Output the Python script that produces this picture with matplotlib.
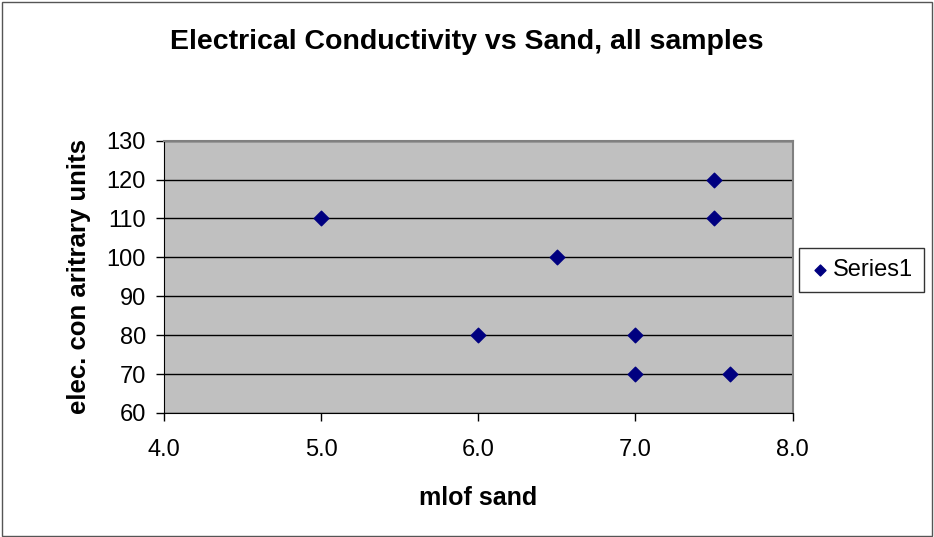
import matplotlib
matplotlib.use("Agg")
import matplotlib.pyplot as plt
from matplotlib.patches import Rectangle

# data
sand_ml = [5.0, 6.0, 6.5, 7.0, 7.0, 7.5, 7.5, 7.6]
conductivity = [110, 80, 100, 80, 70, 120, 110, 70]
x_ticks = [4.0, 5.0, 6.0, 7.0, 8.0]
y_ticks = [60, 70, 80, 90, 100, 110, 120, 130]

plt.rcParams['font.family'] = ['Liberation Sans', 'DejaVu Sans']

fig = plt.figure(figsize=(9.34, 5.37), dpi=100)
ax = fig.add_axes([0.1756, 0.231, 0.673, 0.507])

ax.set_facecolor('#C0C0C0')
ax.scatter(sand_ml, conductivity, marker='D', s=55, color='#000080',
           zorder=3, label='Series1')

ax.set_xlim(4.0, 8.0)
ax.set_ylim(60, 130)
ax.set_xticks(x_ticks)
ax.set_xticklabels([f"{v:.1f}" for v in x_ticks])
ax.set_yticks(y_ticks)
ax.tick_params(axis='both', labelsize=17, length=6, width=1, color='black',
               direction='out')
ax.tick_params(axis='x', pad=13)
ax.tick_params(axis='y', pad=7)
ax.grid(axis='y', color='black', linewidth=1, zorder=1)

for s in ['left', 'bottom']:
    ax.spines[s].set_color('black')
for s in ['top', 'right']:
    ax.spines[s].set_color('#808080')
    ax.spines[s].set_linewidth(1.5)

ax.set_xlabel('mlof sand', fontsize=18, fontweight='bold', labelpad=18)
ax.set_ylabel('elec. con aritrary units', fontsize=18.5, fontweight='bold',
              labelpad=11)
fig.text(0.5, 0.922, 'Electrical Conductivity vs Sand, all samples',
         ha='center', va='center', fontsize=20.5, fontweight='bold')

leg = fig.legend(loc='center left', bbox_to_anchor=(0.855, 0.497),
                 fontsize=17, frameon=True, fancybox=False,
                 handletextpad=0.1, borderpad=0.45, markerscale=0.75,
                 handlelength=0.9, borderaxespad=0)
leg.get_frame().set_edgecolor('black')
leg.get_frame().set_linewidth(1)

# outer chart border
fig.patches.append(Rectangle((0.002, 0.002), 0.996, 0.995,
                             transform=fig.transFigure, fill=False,
                             edgecolor='#555555', linewidth=1))

fig.savefig('out.png', dpi=100)
